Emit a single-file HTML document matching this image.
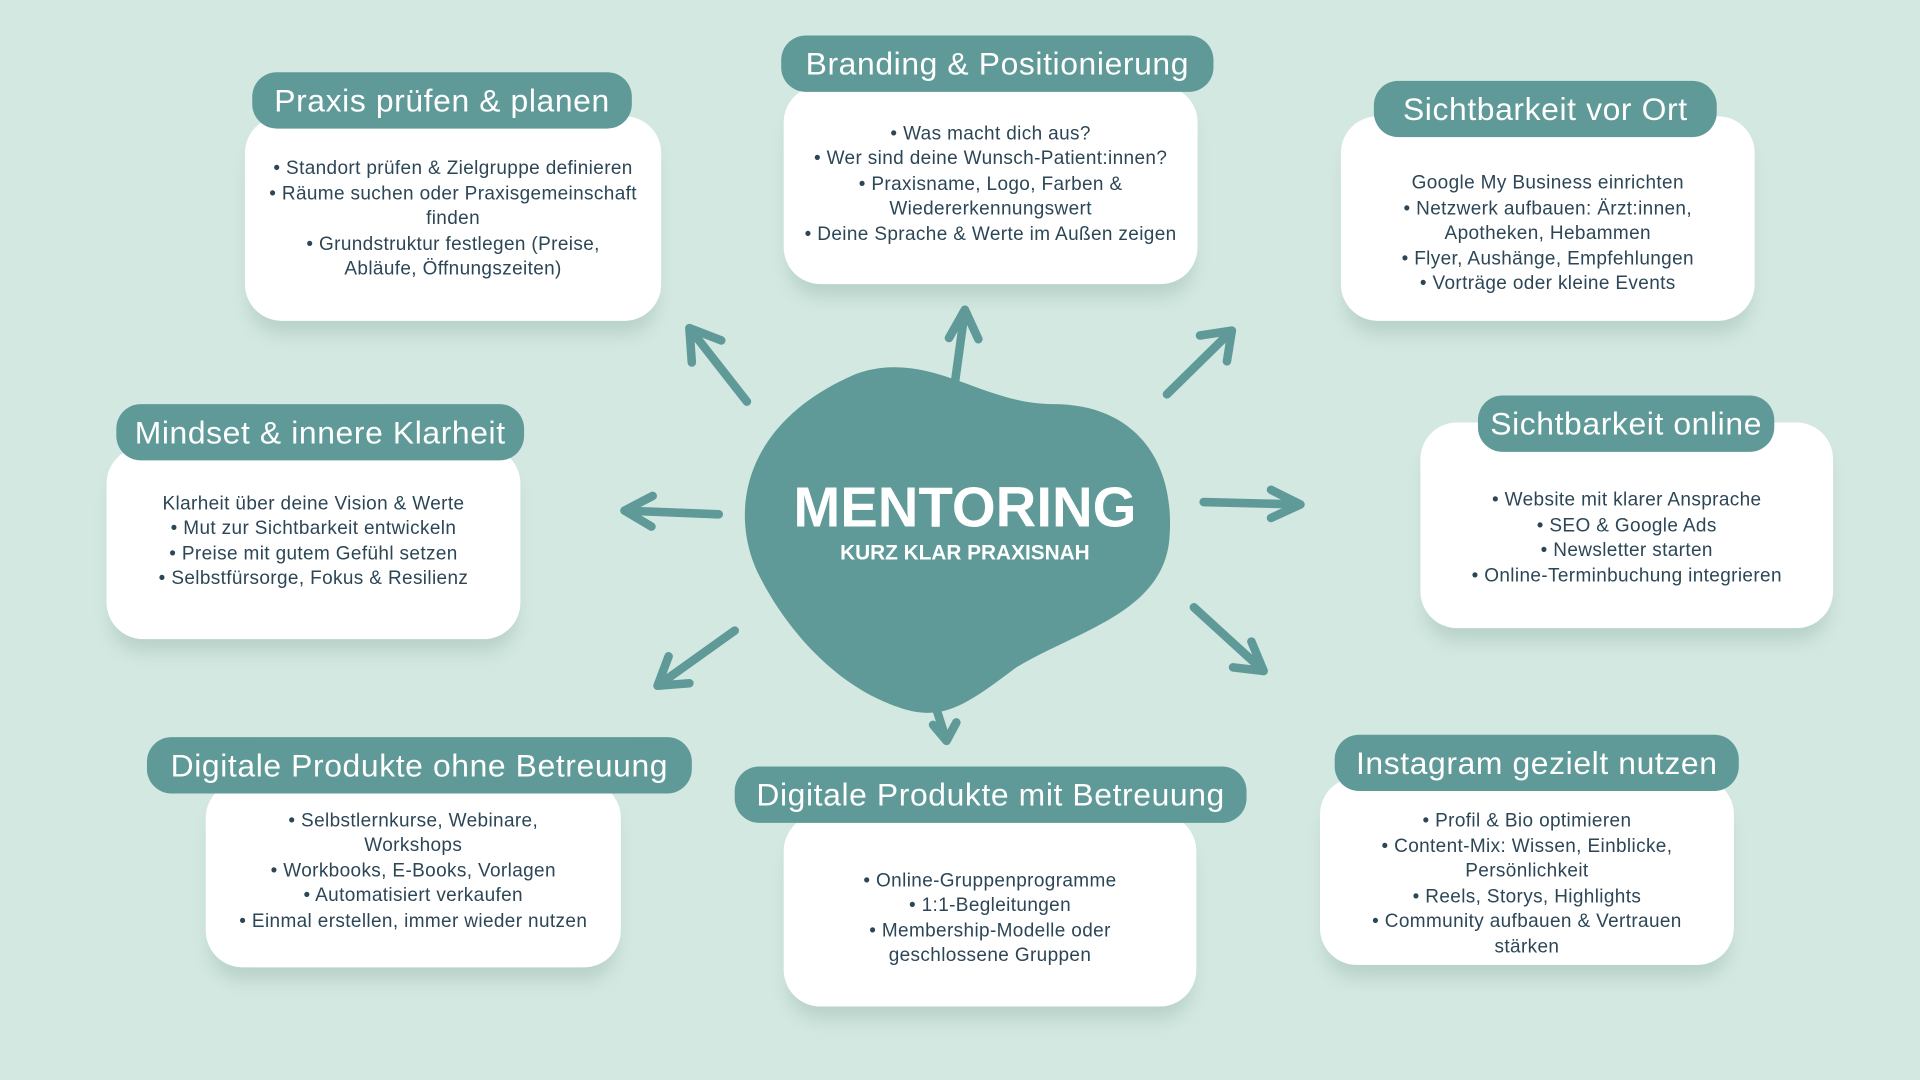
<!DOCTYPE html>
<html><head><meta charset="utf-8"><style>
html,body{margin:0;padding:0;width:1920px;height:1080px;overflow:hidden;background:#d3e8e1;}
#w{position:absolute;left:0;top:0;width:1568px;height:882px;transform:scale(1.22449);transform-origin:0 0;font-family:"Liberation Sans",sans-serif;}
.card{position:absolute;background:#fff;border-radius:30px;box-shadow:0 14px 14px -4px rgba(90,130,120,0.22);color:#2c4656;font-size:15.5px;line-height:20.5px;text-align:center;box-sizing:border-box;display:flex;flex-direction:column;justify-content:center;letter-spacing:0.3px;}
.pill{position:absolute;background:#5f9a98;color:#fff;border-radius:20px;font-size:26px;height:46px;line-height:46px;text-align:center;white-space:nowrap;letter-spacing:0.5px;}
</style></head><body><div id="w">
<svg width="1568" height="882" style="position:absolute;left:0;top:0">
<path d="M700 305 C760 285 800 330 860 330 C930 330 960 380 955 440 C950 500 880 515 830 545 C790 575 770 590 735 578 C680 560 640 510 620 470 C595 420 605 345 700 305 Z" fill="#5f9a98"/>
<g stroke="#5f9a98" stroke-width="7" stroke-linecap="round" stroke-linejoin="round" fill="none">
<path d="M610 328 L563 268 M563 268 L565 296 M563 268 L589 278"/>
<path d="M778 326 L788 253 M788 253 L775 276 M788 253 L799 277"/>
<path d="M953 322 L1006 270 M1006 270 L980 274 M1006 270 L1002 295"/>
<path d="M587 420 L510 417 M510 417 L533 405 M510 417 L532 430"/>
<path d="M983 410 L1062 412 M1062 412 L1038 400 M1062 412 L1038 423"/>
<path d="M600 515 L537 560 M537 560 L563 558 M537 560 L546 536"/>
<path d="M765 580 L773 605 M773 605 L762 592 M773 605 L781 590"/>
<path d="M975 496 L1032 548 M1032 548 L1022 524 M1032 548 L1007 545"/>
</g>
<text x="788" y="430" text-anchor="middle" fill="#fff" font-family="Liberation Sans" font-weight="bold" font-size="46">MENTORING</text>
<text x="788" y="457" text-anchor="middle" fill="#fff" font-family="Liberation Sans" font-weight="bold" font-size="17">KURZ KLAR PRAXISNAH</text>
</svg>

<div class="card" style="left:200px;top:95px;width:340px;height:167px;padding-top:2px">• Standort prüfen &amp; Zielgruppe definieren<br>• Räume suchen oder Praxisgemeinschaft<br>finden<br>• Grundstruktur festlegen (Preise,<br>Abläufe, Öffnungszeiten)</div>
<div class="pill" style="left:206px;top:59px;width:310px">Praxis prüfen &amp; planen</div>

<div class="card" style="left:640px;top:70px;width:338px;height:162px;padding-top:0px">• Was macht dich aus?<br>• Wer sind deine Wunsch-Patient:innen?<br>• Praxisname, Logo, Farben &amp;<br>Wiedererkennungswert<br>• Deine Sprache &amp; Werte im Außen zeigen</div>
<div class="pill" style="left:638px;top:29px;width:353px">Branding &amp; Positionierung</div>

<div class="card" style="left:1095px;top:95px;width:338px;height:167px;padding-top:26px">Google My Business einrichten<br>• Netzwerk aufbauen: Ärzt:innen,<br>Apotheken, Hebammen<br>• Flyer, Aushänge, Empfehlungen<br>• Vorträge oder kleine Events</div>
<div class="pill" style="left:1122px;top:66px;width:280px">Sichtbarkeit vor Ort</div>

<div class="card" style="left:87px;top:365px;width:338px;height:157px;padding-bottom:2px">Klarheit über deine Vision &amp; Werte<br>• Mut zur Sichtbarkeit entwickeln<br>• Preise mit gutem Gefühl setzen<br>• Selbstfürsorge, Fokus &amp; Resilienz</div>
<div class="pill" style="left:95px;top:330px;width:333px">Mindset &amp; innere Klarheit</div>

<div class="card" style="left:1160px;top:345px;width:337px;height:168px;padding-top:22px">• Website mit klarer Ansprache<br>• SEO &amp; Google Ads<br>• Newsletter starten<br>• Online-Terminbuchung integrieren</div>
<div class="pill" style="left:1207px;top:323px;width:242px">Sichtbarkeit online</div>

<div class="card" style="left:168px;top:638px;width:339px;height:152px;padding-bottom:4px">• Selbstlernkurse, Webinare,<br>Workshops<br>• Workbooks, E-Books, Vorlagen<br>• Automatisiert verkaufen<br>• Einmal erstellen, immer wieder nutzen</div>
<div class="pill" style="left:120px;top:602px;width:445px">Digitale Produkte ohne Betreuung</div>

<div class="card" style="left:640px;top:665px;width:337px;height:157px;padding-top:14px">• Online-Gruppenprogramme<br>• 1:1-Begleitungen<br>• Membership-Modelle oder<br>geschlossene Gruppen</div>
<div class="pill" style="left:600px;top:626px;width:418px">Digitale Produkte mit Betreuung</div>

<div class="card" style="left:1078px;top:635px;width:338px;height:153px;padding-top:22px">• Profil &amp; Bio optimieren<br>• Content-Mix: Wissen, Einblicke,<br>Persönlichkeit<br>• Reels, Storys, Highlights<br>• Community aufbauen &amp; Vertrauen<br>stärken</div>
<div class="pill" style="left:1090px;top:600px;width:330px">Instagram gezielt nutzen</div>
</div></body></html>
